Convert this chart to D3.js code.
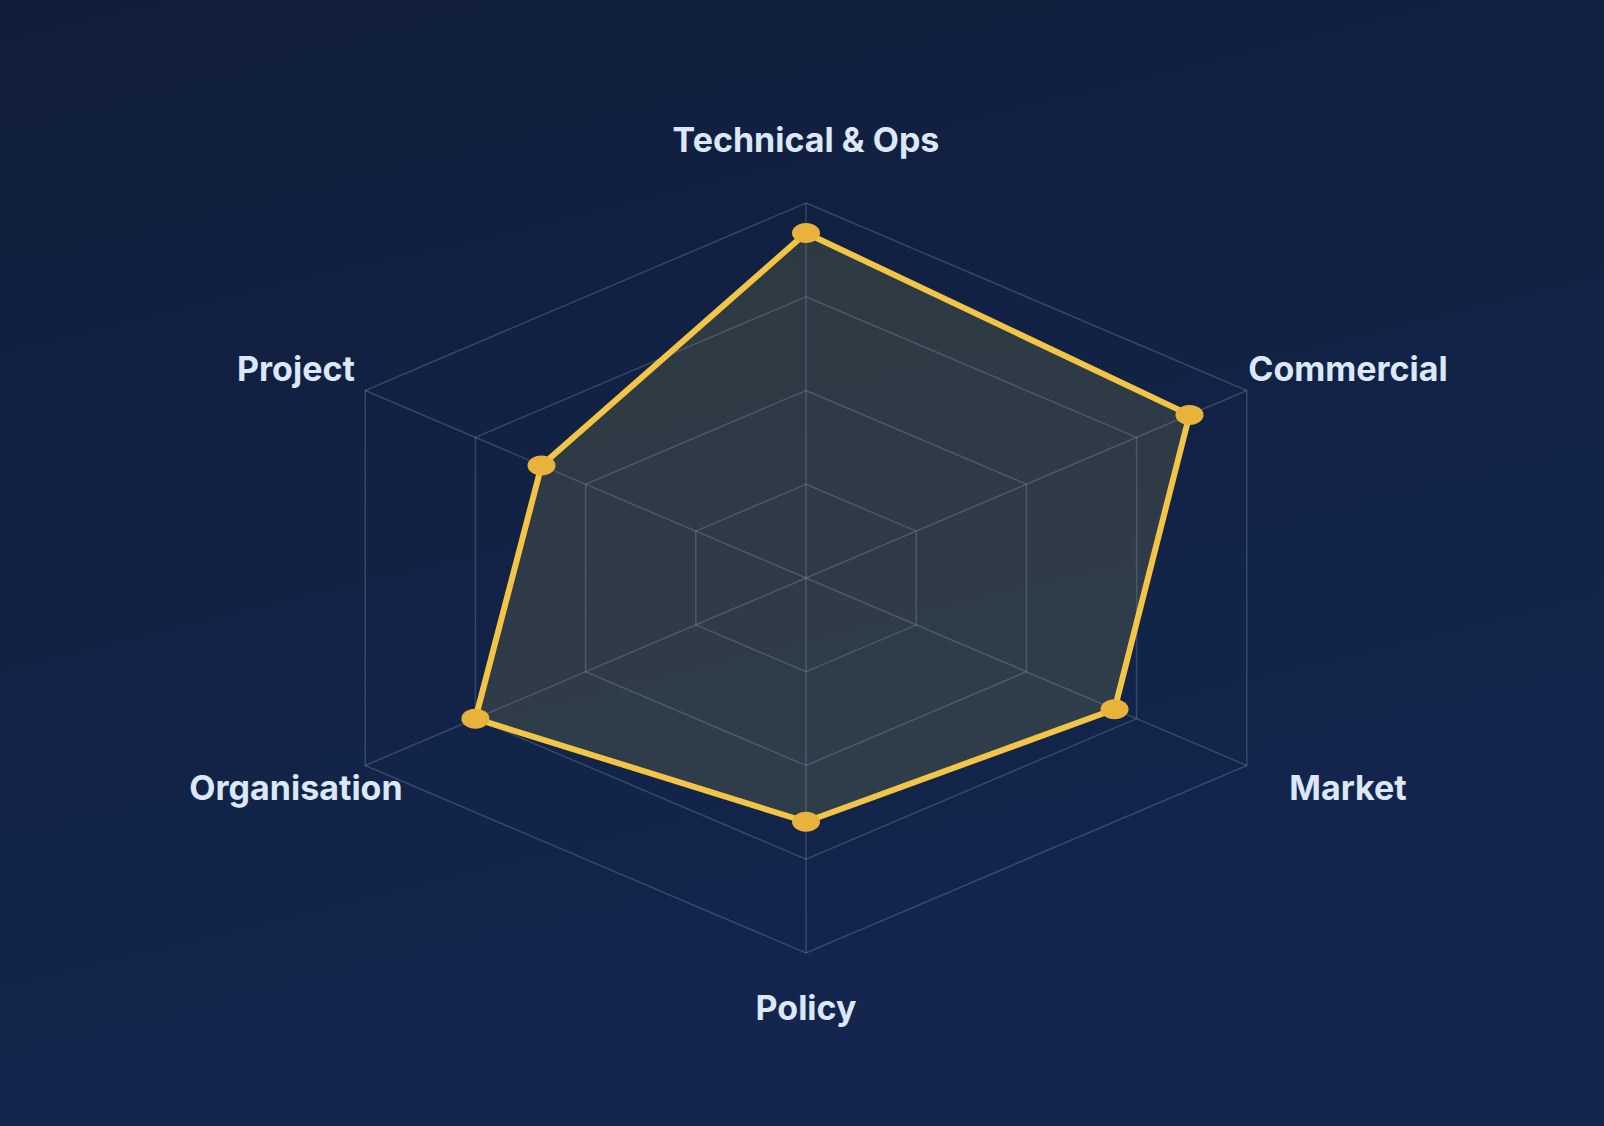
<!DOCTYPE html>
<html>
<head>
<meta charset="utf-8">
<script src="https://cdn.jsdelivr.net/npm/d3@7/dist/d3.min.js"></script>
<style>
  html, body { margin: 0; padding: 0; background: #12203f; }
  svg { display: block; }
</style>
</head>
<body>
<svg id="chart" width="1604" height="1126"></svg>
<script>
// ---- data ----
const axes = ["Technical & Ops", "Commercial", "Market", "Policy", "Organisation", "Project"];
const scores = [92, 87, 70, 65, 75, 60];
const levels = [25, 50, 75, 100];

// ---- layout ----
const W = 1604, H = 1126;
const cx = 806, cy = 578;
const RX = 509, RY = 375;

const svg = d3.select("#chart");
const defs = svg.append("defs");
const grad = defs.append("linearGradient").attr("id", "bg")
  .attr("x1", "0").attr("y1", "0").attr("x2", "0.35").attr("y2", "1");
grad.append("stop").attr("offset", "0%").attr("stop-color", "#101e3b");
grad.append("stop").attr("offset", "100%").attr("stop-color", "#14264f");
svg.append("rect").attr("width", W).attr("height", H).attr("fill", "url(#bg)");

const rx = d3.scaleLinear().domain([0, 100]).range([0, RX]);
const ry = d3.scaleLinear().domain([0, 100]).range([0, RY]);
const angle = d3.scaleLinear().domain([0, axes.length]).range([0, 2 * Math.PI]);

const pt = (i, v) => [cx + rx(v) * Math.sin(angle(i)), cy - ry(v) * Math.cos(angle(i))];

const g = svg.append("g");

// area fill
const polyLine = d3.line().curve(d3.curveLinearClosed);
const dataPts = scores.map((v, i) => pt(i, v));
g.append("path").attr("d", polyLine(dataPts))
  .attr("fill", "rgba(205,200,72,0.15)").attr("stroke", "none");

// grid rings
g.append("g").selectAll("path").data(levels).join("path")
  .attr("d", l => polyLine(axes.map((_, i) => pt(i, l))))
  .attr("fill", "none")
  .attr("stroke", "rgba(150,165,190,0.27)")
  .attr("stroke-width", 1.5);

// spokes
g.append("g").selectAll("line").data(axes).join("line")
  .attr("x1", cx).attr("y1", cy)
  .attr("x2", (d, i) => pt(i, 100)[0])
  .attr("y2", (d, i) => pt(i, 100)[1])
  .attr("stroke", "rgba(150,165,190,0.27)")
  .attr("stroke-width", 1.5);

// data outline
g.append("path").attr("d", polyLine(dataPts))
  .attr("fill", "none")
  .attr("stroke", "#f3c547")
  .attr("stroke-width", 6)
  .attr("stroke-linejoin", "round");

// dots
g.append("g").selectAll("ellipse").data(scores).join("ellipse")
  .attr("cx", (v, i) => pt(i, v)[0])
  .attr("cy", (v, i) => pt(i, v)[1])
  .attr("rx", 14).attr("ry", 10)
  .attr("fill", "#e9b33b");

// labels
const labelFactor = 115.7;
g.append("g").selectAll("text").data(axes).join("text")
  .attr("x", (d, i) => {
    const s = Math.sin(angle(i));
    return cx + rx(labelFactor) * s + (s > 0.1 ? 32 : 0);
  })
  .attr("y", (d, i) => {
    const c = Math.cos(angle(i));
    const vert = Math.abs(c) > 0.9;
    const pad = vert ? 59 : 22;
    const capMid = cy - c * ry(100) - Math.sign(c) * pad - (vert ? 4.5 : 0);
    return capMid + 12.5;
  })
  .attr("text-anchor", "middle")
  .attr("font-family", "Inter, 'Noto Sans', sans-serif")
  .attr("font-weight", 700)
  .attr("font-size", 34)
  .attr("fill", "#dce8f8")
  .text(d => d);
</script>
</body>
</html>
